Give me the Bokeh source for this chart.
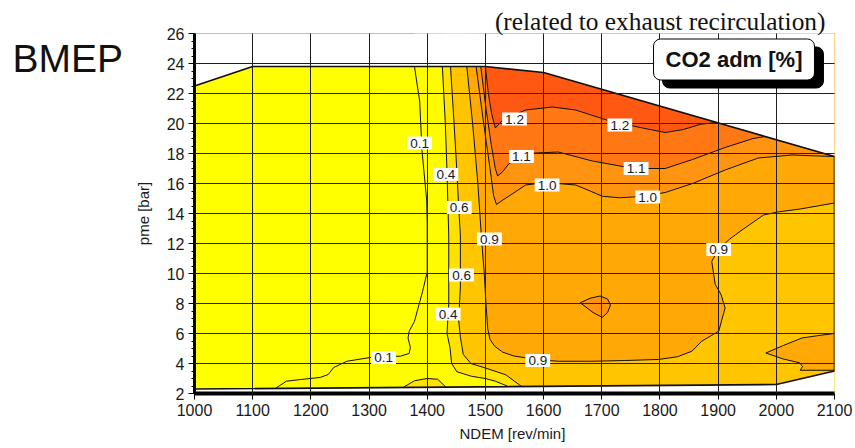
import numpy as np
from bokeh.plotting import figure
from bokeh.layouts import row
from bokeh.models import Range1d, SingleIntervalTicker, FixedTicker, Label, Title, ColumnDataSource
from bokeh.core.properties import value
from bokeh.embed import file_html
from bokeh.resources import INLINE

# ---------------- data (NDEM [rev/min], pme [bar]) ----------------
# engine operating envelope
top_ndem = [1000, 1100, 1500, 1600, 2100]
top_pme = [22.5, 23.8, 23.8, 23.4, 17.8]
bottom_ndem = [1000, 2000, 2100]
bottom_pme = [2.3, 2.6, 3.5]

# iso-lines of CO2 adm [%]
c01_ndem = [1378, 1387, 1391, 1399, 1400, 1400, 1392, 1378, 1369, 1367, 1371, 1369, 1354, 1325, 1302, 1262, 1239, 1230, 1216, 1182, 1158, 1139]
c01_pme = [23.8, 21.5, 18.2, 14.9, 13.3, 10.1, 8.8, 6.8, 6.15, 5.7, 5.07, 4.67, 4.49, 4.45, 4.4, 4.15, 3.73, 3.27, 3.07, 2.93, 2.82, 2.34]

c04_ndem = [1426, 1431, 1434, 1437, 1437, 1437, 1434, 1439, 1442, 1451, 1476, 1500, 1517, 1540]
c04_pme = [23.8, 20.1, 16.8, 12.5, 11.3, 8.0, 6.0, 5.1, 4.0, 3.45, 3.15, 3.0, 2.82, 2.46]
c04b_ndem = [1432, 1418, 1400, 1378, 1359]
c04b_pme = [2.43, 2.95, 3.0, 2.85, 2.41]

c06_ndem = [1440, 1446, 1451, 1454, 1457, 1457, 1457, 1454, 1457, 1462, 1475, 1500, 1535, 1562]
c06_pme = [23.8, 20.1, 16.8, 14.5, 12.5, 10.0, 9.1, 6.9, 5.75, 4.6, 4.0, 3.7, 3.25, 2.47]

c09_ndem = [1468, 1478, 1487, 1493, 1498, 1501, 1504, 1508, 1516, 1530, 1549, 1569, 1590, 1626, 1683, 1741, 1798, 1830, 1855, 1872, 1901, 1912, 1905, 1895, 1889, 1900, 1920, 1941, 1978, 2002, 2041, 2100]
c09_pme = [23.8, 20.0, 16.0, 12.5, 10.0, 8.0, 6.3, 5.6, 5.15, 4.75, 4.5, 4.38, 4.25, 4.15, 4.15, 4.2, 4.27, 4.45, 4.82, 5.49, 6.15, 7.7, 8.6, 9.27, 10.8, 11.6, 12.3, 12.9, 13.9, 14.1, 14.3, 14.7]
c09b_ndem = [2100, 2070, 2044, 2012, 1982, 2012, 2040, 2045, 2041, 2060, 2100]
c09b_pme = [6.0, 5.85, 5.7, 5.2, 4.7, 4.3, 4.05, 3.8, 3.55, 3.55, 3.55]

c10_ndem = [1484, 1497, 1508, 1514, 1519, 1530, 1546, 1569, 1600, 1625, 1655, 1680, 1701, 1730, 1753, 1780, 1809, 1856, 1912, 1969, 2027, 2060, 2100]
c10_pme = [23.8, 20.0, 17.0, 15.2, 14.6, 14.9, 15.3, 15.9, 16.05, 16.0, 15.9, 15.5, 15.15, 15.05, 15.1, 15.2, 15.4, 16.0, 16.9, 17.7, 17.9, 17.85, 17.8]
c10i_ndem = [1663, 1680, 1697, 1710, 1715, 1710, 1701, 1685, 1663]
c10i_pme = [8.05, 8.35, 8.5, 8.3, 7.9, 7.4, 7.07, 7.4, 8.05]

c11_ndem = [1492, 1501, 1510, 1517, 1521, 1530, 1540, 1569, 1625, 1684, 1741, 1780, 1809, 1856, 1912, 1960, 1981]
c11_pme = [23.8, 21.0, 18.6, 17.0, 16.5, 16.8, 17.3, 18.0, 18.1, 17.5, 17.1, 17.0, 17.0, 17.6, 18.4, 19.0, 19.13]

c12_ndem = [1500, 1505, 1511, 1517, 1529, 1569, 1615, 1655, 1711, 1770, 1809, 1840, 1870, 1897]
c12_pme = [23.8, 22.0, 20.6, 19.7, 20.2, 20.9, 21.1, 20.9, 20.2, 19.7, 19.4, 19.6, 19.95, 20.07]

# iso-line labels
lab_text = ["0.1", "0.1", "0.4", "0.4", "0.6", "0.6", "0.9", "0.9", "0.9", "1.0", "1.0", "1.1", "1.1", "1.2", "1.2"]
lab_ndem = [1387, 1325, 1432, 1436, 1455, 1459, 1507, 1590, 1901, 1606, 1779, 1562, 1759, 1550, 1731]
lab_pme = [18.7, 4.4, 16.6, 7.3, 14.4, 9.9, 12.3, 4.2, 11.6, 15.9, 15.1, 17.8, 17.0, 20.3, 19.9]

levels = [0.1, 0.4, 0.6, 0.9, 1.0, 1.1, 1.2]
level_lines = [
    [(c01_ndem, c01_pme)],
    [(c04_ndem, c04_pme), (c04b_ndem, c04b_pme)],
    [(c06_ndem, c06_pme)],
    [(c09_ndem, c09_pme), (c09b_ndem, c09b_pme)],
    [(c10_ndem, c10_pme), (c10i_ndem, c10i_pme)],
    [(c11_ndem, c11_pme)],
    [(c12_ndem, c12_pme)],
]
base_color = "#FFFF00"
level_colors = ["#FFFB00", "#FFE200", "#FFC600", "#FFA806", "#FF9410", "#FF7814", "#FF5812"]

# ---------------- helpers to close a region on its high side ----------------
N0, N1, P0, P1 = 880.0, 2220.0, -1.0, 30.0
CORNERS = [(1.0, (N1, P0)), (2.0, (N1, P1)), (3.0, (N0, P1)), (4.0, (N0, P0))]


def side_of(n, p):
    if n >= 2099:
        return "right"
    if p >= np.interp(n, top_ndem, top_pme) - 0.3:
        return "top"
    if p <= np.interp(n, bottom_ndem, bottom_pme) + 0.3:
        return "bottom"
    return "left"


def perim(n, p):
    s = side_of(n, p)
    if s == "bottom":
        return (n - N0) / (N1 - N0), (n, P0)
    if s == "right":
        return 1 + (p - P0) / (P1 - P0), (N1, p)
    if s == "top":
        return 2 + (N1 - n) / (N1 - N0), (n, P1)
    return 3 + (P1 - p) / (P1 - P0), (N0, p)


def region(ns, ps):
    if ns[0] == ns[-1] and ps[0] == ps[-1]:
        return list(ns), list(ps)
    te, pe = perim(ns[-1], ps[-1])
    ts, pst = perim(ns[0], ps[0])
    if ts <= te:
        ts += 4
    pts = [pe]
    for c, xy in CORNERS + [(c + 4, xy) for c, xy in CORNERS]:
        if te < c < ts:
            pts.append(xy)
    pts.append(pst)
    return list(ns) + [q[0] for q in pts], list(ps) + [q[1] for q in pts]


env_ndem = top_ndem + bottom_ndem[::-1]
env_pme = top_pme + bottom_pme[::-1]
font = "Liberation Sans"

# ---------------- left strip with the "BMEP" heading ----------------
side = figure(width=130, height=448, x_range=Range1d(0, 130), y_range=Range1d(393, 33),
              x_axis_type=None, y_axis_type=None, output_backend="svg", toolbar_location=None,
              min_border_left=0, min_border_right=0, min_border_top=33,
              min_border_bottom=55, title=None)
side.outline_line_color = None
side.grid.visible = False
side.text(x=[12], y=[58], text=["BMEP"], text_font=value(font), text_font_size="39px",
          text_color="#111111", text_align="left", text_baseline="alphabetic")

# ---------------- main figure ----------------
p = figure(width=725, height=448, title=None,
           x_range=Range1d(1000, 2100), y_range=Range1d(2, 26),
           output_backend="svg", toolbar_location=None,
           min_border_left=64, min_border_right=21, min_border_top=33, min_border_bottom=55)
p.outline_line_color = "#7a7a7a"
p.outline_line_width = 1
p.background_fill_color = "white"
p.border_fill_color = "white"

p.add_layout(Title(text="(related to exhaust recirculation)", align="right", offset=9,
                   standoff=-3, text_font="Liberation Serif", text_font_size="25.4px",
                   text_font_style="normal", text_color="#111111"), "above")

# filled bands
p.patch(env_ndem, env_pme, fill_color=base_color, line_color=None)
for col, lines in zip(level_colors, level_lines):
    xs, ys = [], []
    for ns, ps in lines:
        rx, ry = region(ns, ps)
        xs.append(rx)
        ys.append(ry)
    p.patches(xs, ys, fill_color=col, line_color=None)

# white mask outside the envelope
box_x = [N0, N1, N1, N0]
box_y = [P0, P0, P1, P1]
p.multi_polygons(xs=[[[box_x, env_ndem]]], ys=[[[box_y, env_pme]]],
                 fill_color="white", line_color=None)

# iso-lines
all_x = [l[0] for lines in level_lines for l in lines]
all_y = [l[1] for lines in level_lines for l in lines]
p.multi_line(all_x, all_y, line_color="#111111", line_width=1)

# envelope outline
p.patch(env_ndem, env_pme, fill_color=None, line_color="#111111", line_width=1.7)

# iso-line labels
src = ColumnDataSource(dict(n=lab_ndem, p=lab_pme, t=lab_text))
p.text(x="n", y="p", text="t", source=src, text_font=value(font),
       text_font_size="13.5px", text_color="#1a1a1a", text_align="center", text_baseline="middle",
       background_fill_color="white", padding=(3, 2), level="annotation")

# axes
p.xaxis.ticker = SingleIntervalTicker(interval=100)
p.yaxis.ticker = SingleIntervalTicker(interval=2, num_minor_ticks=4)
p.xgrid.ticker = FixedTicker(ticks=list(range(1100, 2100, 100)))
p.ygrid.ticker = FixedTicker(ticks=list(range(4, 26, 2)))
p.grid.grid_line_color = "#1e1e1e"
p.grid.grid_line_width = 1
p.grid.level = "guide"

for ax in (p.xaxis, p.yaxis):
    ax.axis_line_color = "black"
    ax.major_tick_line_color = "black"
    ax.major_tick_in = 0
    ax.major_tick_out = 6
    ax.minor_tick_in = 0
    ax.minor_tick_out = 3
    ax.major_label_text_font = font
    ax.major_label_text_font_size = "16px"
    ax.major_label_text_color = "#1a1a1a"
    ax.axis_label_text_font = font
    ax.axis_label_text_font_size = "15px"
    ax.axis_label_text_font_style = "normal"
    ax.axis_label_text_color = "#1a1a1a"

p.yaxis.axis_line_width = 3
p.xaxis.axis_line_width = 4
p.xaxis.minor_tick_line_color = None
p.yaxis.minor_tick_line_color = "black"
p.xaxis.major_label_standoff = 4
p.yaxis.major_label_standoff = 4
p.xaxis.axis_label = "NDEM  [rev/min]"
p.yaxis.axis_label = "pme [bar]"
p.xaxis.axis_label_standoff = 6
p.yaxis.axis_label_standoff = 12

# legend-like box "CO2 adm [%]" with shadow
p.add_layout(Label(x=548.5, y=326, x_units="screen", y_units="screen", text="CO2 adm [%]",
                   text_font=font, text_font_style="bold", text_font_size="22px", text_color="black",
                   text_align="center", text_baseline="middle",
                   background_fill_color="black", border_line_color="black",
                   padding=(12, 8), border_radius=7))
p.add_layout(Label(x=539.5, y=334, x_units="screen", y_units="screen", text="CO2 adm [%]",
                   text_font=font, text_font_style="bold", text_font_size="22px", text_color="#111111",
                   text_align="center", text_baseline="middle",
                   background_fill_color="white", border_line_color="black", border_line_width=1,
                   padding=(12, 8), border_radius=7))

layout = row(side, p, spacing=0)
open("out.html", "w").write(file_html(layout, INLINE))
